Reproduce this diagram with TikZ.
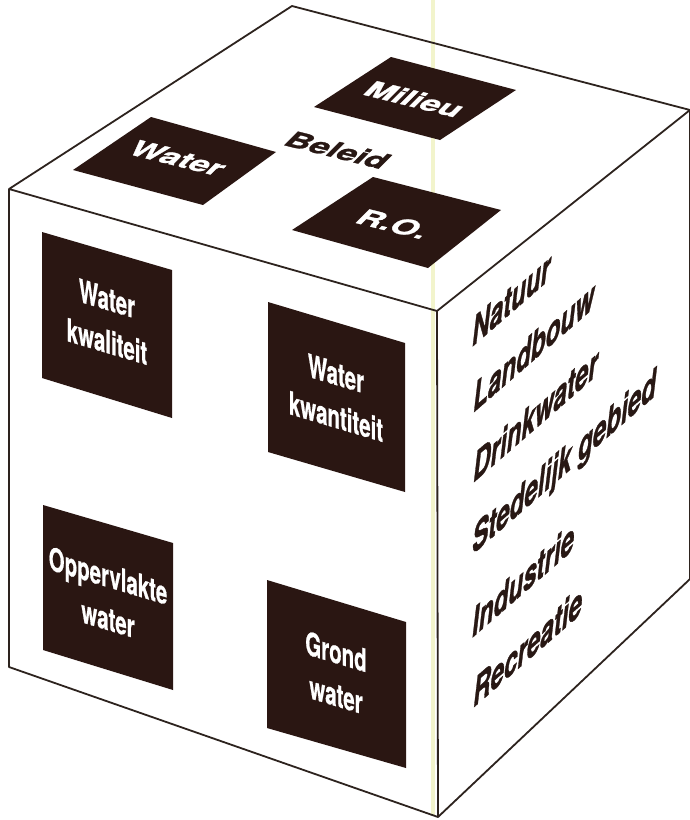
\documentclass[tikz,border=0pt]{standalone}
\usepackage{fontspec}
\setmainfont{TeX Gyre Heros}
\newfontfamily\heavyfam{TeX Gyre Heros}[BoldFeatures={FakeBold=1.2}, BoldItalicFeatures={FakeBold=1.2}]
\newfontfamily\frontfam{TeX Gyre Heros}[BoldFeatures={FakeBold=0.8}]
\definecolor{boxcol}{RGB}{42,22,18}
\definecolor{inkcol}{RGB}{40,24,20}
\definecolor{edgecol}{RGB}{45,35,30}
\definecolor{streak}{RGB}{242,244,204}
\begin{document}
\begin{tikzpicture}[x=1pt,y=-1pt]
\tikzset{
  cubeedge/.style={draw=edgecol, line width=1.8pt, line join=round},
  darkbox/.style={fill=boxcol},
  fronttxt/.style={text=white, font=\frontfam\fontsize{32}{43}\selectfont\bfseries, align=center, inner sep=0pt, transform shape},
  toptxt/.style={text=white, font=\heavyfam\fontsize{34}{40}\selectfont\bfseries, inner sep=0pt, transform shape},
  beleidtxt/.style={text=inkcol, font=\heavyfam\fontsize{34}{40}\selectfont\bfseries, inner sep=0pt, transform shape},
  sidetxt/.style={text=inkcol, font=\heavyfam\fontsize{32}{36}\selectfont\bfseries\itshape, inner sep=0pt, anchor=base west, transform shape},
  frontplane/.style={shift={#1}, cm={0.64,-0.192,0,1,(0,0)}},
  topplane/.style={shift={#1}, cm={0.970,-0.242,0.55,0.55,(0,0)}},
  sideplane/.style={shift={#1}, cm={0.755,0.656,0,1.22,(0,0)}},
}
\useasboundingbox (0,0) rectangle (689,820);
\fill[white] (0,0) rectangle (689,820);

% cube corners
\coordinate (L)  at (9,189);
\coordinate (T)  at (292,6);
\coordinate (R)  at (690,110);
\coordinate (F)  at (437,311);
\coordinate (LB) at (9,667);
\coordinate (FB) at (438,817);
\coordinate (RB) at (690,579);

% faint scan streak
\draw[streak, line width=4pt] (433,0) -- (433,815);

% top face boxes
\fill[darkbox] (314,107) -- (391,57) -- (516,90) -- (440,140) -- cycle;
\fill[darkbox] (73,170) -- (151,117) -- (276,152) -- (203,205) -- cycle;
\fill[darkbox] (292,230) -- (373,177) -- (501,210) -- (428,268) -- cycle;

% front face boxes
\fill[darkbox] (42,232) -- (172,270) -- (172,418) -- (42,378) -- cycle;
\fill[darkbox] (268,302) -- (405,343) -- (405,492) -- (268,452) -- cycle;
\fill[darkbox] (43,505) -- (173,543) -- (173,690) -- (43,650) -- cycle;
\fill[darkbox] (267,580) -- (406,622) -- (406,768) -- (267,728) -- cycle;

% cube edges
\draw[cubeedge] (L) -- (T) -- (R) -- (F) -- cycle;
\draw[cubeedge] (L) -- (LB) -- (FB) -- (RB) -- (R);
\draw[cubeedge] (F) -- (FB);

% top face labels
\begin{scope}[topplane={(415,99)}]
  \node[toptxt] (milieu) at (0,0) {Milieu};
\end{scope}
\begin{scope}[topplane={(178,158)}]
  \node[toptxt] (watertop) at (0,0) {Water};
\end{scope}
\begin{scope}[topplane={(394,224)}]
  \node[toptxt] (ro) at (0,0) {R.O.};
\end{scope}
\begin{scope}[topplane={(338,150)}]
  \node[beleidtxt] (beleid) at (0,0) {Beleid};
\end{scope}

% front face labels
\begin{scope}[frontplane={(107,320)}]
  \node[fronttxt] (wkwal) at (0,0) {Water\\kwaliteit};
\end{scope}
\begin{scope}[frontplane={(336,395)}]
  \node[fronttxt] (wkwan) at (0,0) {Water\\kwantiteit};
\end{scope}
\begin{scope}[frontplane={(108,597)}]
  \node[fronttxt] (opp) at (0,0) {Oppervlakte\\water};
\end{scope}
\begin{scope}[frontplane={(336,673)}]
  \node[fronttxt] (grond) at (0,0) {Grond\\water};
\end{scope}

% right face labels
\begin{scope}[sideplane={(472,347)}]
  \node[sidetxt] (natuur) at (0,0) {Natuur};
\end{scope}
\begin{scope}[sideplane={(473,413)}]
  \node[sidetxt] (landbouw) at (0,0) {Landbouw};
\end{scope}
\begin{scope}[sideplane={(473,483)}]
  \node[sidetxt] (drink) at (0,0) {Drinkwater};
\end{scope}
\begin{scope}[sideplane={(472,555)}]
  \node[sidetxt] (stedelijk) at (0,0) {Stedelijk gebied};
\end{scope}
\begin{scope}[sideplane={(472,638)}]
  \node[sidetxt] (industrie) at (0,0) {Industrie};
\end{scope}
\begin{scope}[sideplane={(473,708)}]
  \node[sidetxt] (recreatie) at (0,0) {Recreatie};
\end{scope}
\end{tikzpicture}
\end{document}
